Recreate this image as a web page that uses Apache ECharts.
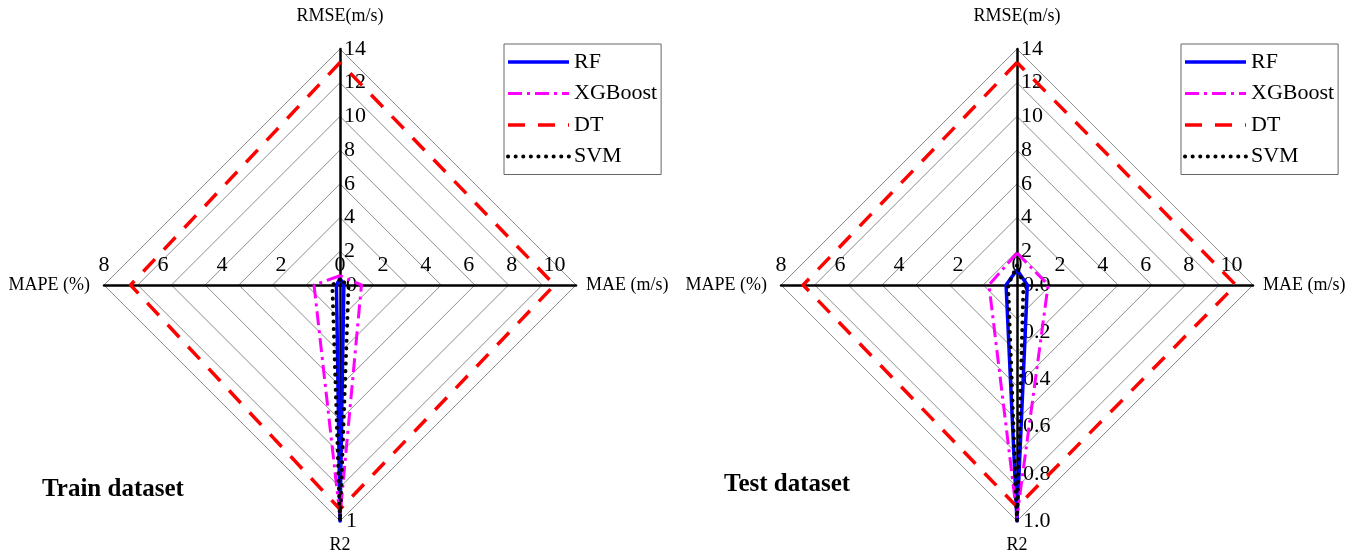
<!DOCTYPE html>
<html>
<head>
    <meta charset="utf-8">
    <title>Radar - Train / Test</title>
</head>
<body style="margin:0;background:#fff;">
    <div id="main" style="width:1360px;height:558px;"></div>
<script src="https://cdn.jsdelivr.net/npm/echarts@6/dist/echarts.min.js"></script>
<script>
// indicator order follows the radar (counter-clockwise from top): RMSE, MAPE, R2, MAE
var indicatorNames = ['RMSE(m/s)', 'MAPE (%)', 'R2', 'MAE (m/s)'];
var indicatorMax = [14, 8, 1, 11];
var models = ['RF', 'XGBoost', 'DT', 'SVM'];

var trainRF  = [0.4, 0.12, 1.0, 0.18];
var trainXGB = [0.55, 0.88, 0.98, 1.0];
var trainDT  = [13.2, 7.1, 0.95, 10.0];
var trainSVM = [0.3, 0.26, 1.0, 0.4];

var testRF  = [0.9, 0.37, 1.0, 0.48];
var testXGB = [1.9, 0.95, 0.98, 1.45];
var testDT  = [13.2, 7.25, 0.94, 10.2];
var testSVM = [1.15, 0.3, 1.0, 0.3];

// tick labels of the single axes
var rmseTicks = {min: 0, max: 14, interval: 2};
var maeTicks = {min: 0, max: 11, interval: 2};
var mapeTicks = {min: 0, max: 8, interval: 2};
var r2TrainTicks = {min: 0, max: 1, interval: 1};
var r2TestTicks = {min: 0, max: 1, interval: 0.2};

var FONT = '"Liberation Serif", "DejaVu Serif", serif';
var R = 236;
var centers = [[340, 285], [1017, 285]];
var nameGaps = [24, 14, 15, 10];

var lineStyles = [
    {color: '#0000ff', width: 3.5, type: 'solid', cap: 'butt'},
    {color: '#ff00ff', width: 3, type: [14, 5, 3, 5], cap: 'butt'},
    {color: '#ff0000', width: 3.5, type: [17, 13], cap: 'butt'},
    {color: '#000000', width: 4, type: [0.1, 7.5], cap: 'round'}
];

function makeRadar(c) {
    return {
        center: c,
        radius: R,
        startAngle: 90,
        splitNumber: 7,
        shape: 'polygon',
        indicator: indicatorNames.map(function (n, i) {
            return {name: n, min: 0, max: indicatorMax[i], nameGap: nameGaps[i]};
        }),
        nameGap: 12,
        axisName: {color: '#000', fontSize: 18, fontFamily: FONT},
        axisLine: {lineStyle: {color: '#000', width: 2.5}},
        splitLine: {lineStyle: {color: '#8c8c8c', width: 1}},
        splitArea: {show: false},
        axisTick: {show: false},
        axisLabel: {show: false}
    };
}

function makeSeries(idx, rows) {
    return {
        type: 'radar',
        radarIndex: idx,
        symbol: 'none',
        silent: true,
        data: rows.map(function (v, i) {
            return {name: models[i], value: v, lineStyle: lineStyles[i]};
        })
    };
}

function makeLegend(left) {
    return {
        orient: 'vertical',
        left: left,
        top: 44,
        padding: [7, 4, 7, 2],
        itemGap: 9.5,
        itemWidth: 61,
        itemHeight: 14,
        borderColor: '#666',
        borderWidth: 1,
        selectedMode: false,
        textStyle: {color: '#000', fontSize: 22, fontFamily: FONT},
        data: models.map(function (m, i) {
            var s = lineStyles[i];
            return {
                name: m,
                icon: 'line',
                itemStyle: {color: s.color, borderColor: s.color, borderWidth: s.width,
                            borderType: s.type, borderCap: s.cap}
            };
        })
    };
}

var labelStyle = {color: '#000', fontSize: 22, fontFamily: FONT};

function hiddenAxis(o) {
    var base = {
        type: 'value',
        axisLine: {show: false},
        axisTick: {show: false},
        splitLine: {show: false},
        silent: true
    };
    for (var k in o) base[k] = o[k];
    return base;
}

var grids = [], xAxes = [], yAxes = [];
centers.forEach(function (c, k) {
    var g = grids.length;
    // top-right quarter: MAE along x, RMSE along y
    grids.push({left: c[0], top: c[1] - R, width: R, height: R});
    // bottom-left quarter: MAPE along x, R2 along y
    grids.push({left: c[0] - R, top: c[1], width: R, height: R});

    xAxes.push(hiddenAxis({gridIndex: g, position: 'bottom', min: maeTicks.min, max: maeTicks.max,
        interval: maeTicks.interval,
        axisLabel: Object.assign({inside: true, margin: 9, showMinLabel: false, showMaxLabel: false}, labelStyle)}));
    yAxes.push(hiddenAxis({gridIndex: g, position: 'left', min: rmseTicks.min, max: rmseTicks.max,
        interval: rmseTicks.interval,
        axisLabel: Object.assign({inside: true, margin: 4, showMinLabel: false}, labelStyle)}));

    xAxes.push(hiddenAxis({gridIndex: g + 1, position: 'top', inverse: true, min: mapeTicks.min,
        max: mapeTicks.max, interval: mapeTicks.interval,
        axisLabel: Object.assign({margin: 9}, labelStyle)}));
    var r2 = k === 0 ? r2TrainTicks : r2TestTicks;
    yAxes.push(hiddenAxis({gridIndex: g + 1, position: 'right', inverse: true, min: r2.min, max: r2.max,
        interval: r2.interval,
        axisLabel: Object.assign({margin: 6, formatter: function (v) {
            return k === 0 ? String(Math.round(v)) : v.toFixed(1);
        }}, labelStyle)}));
});

var myChart = echarts.init(document.getElementById('main'));
myChart.setOption({
    backgroundColor: '#fff',
    animation: false,
    title: [
        {text: 'Train dataset', left: 42, top: 477, padding: 0,
         textStyle: {fontSize: 25, fontWeight: 'bold', fontFamily: FONT, color: '#000'}},
        {text: 'Test dataset', left: 724, top: 472, padding: 0,
         textStyle: {fontSize: 25, fontWeight: 'bold', fontFamily: FONT, color: '#000'}}
    ],
    legend: [makeLegend(504), makeLegend(1181)],
    radar: [makeRadar(centers[0]), makeRadar(centers[1])],
    grid: grids,
    xAxis: xAxes,
    yAxis: yAxes,
    series: [
        makeSeries(0, [trainRF, trainXGB, trainDT, trainSVM]),
        makeSeries(1, [testRF, testXGB, testDT, testSVM])
    ]
});
</script>
</body>
</html>
